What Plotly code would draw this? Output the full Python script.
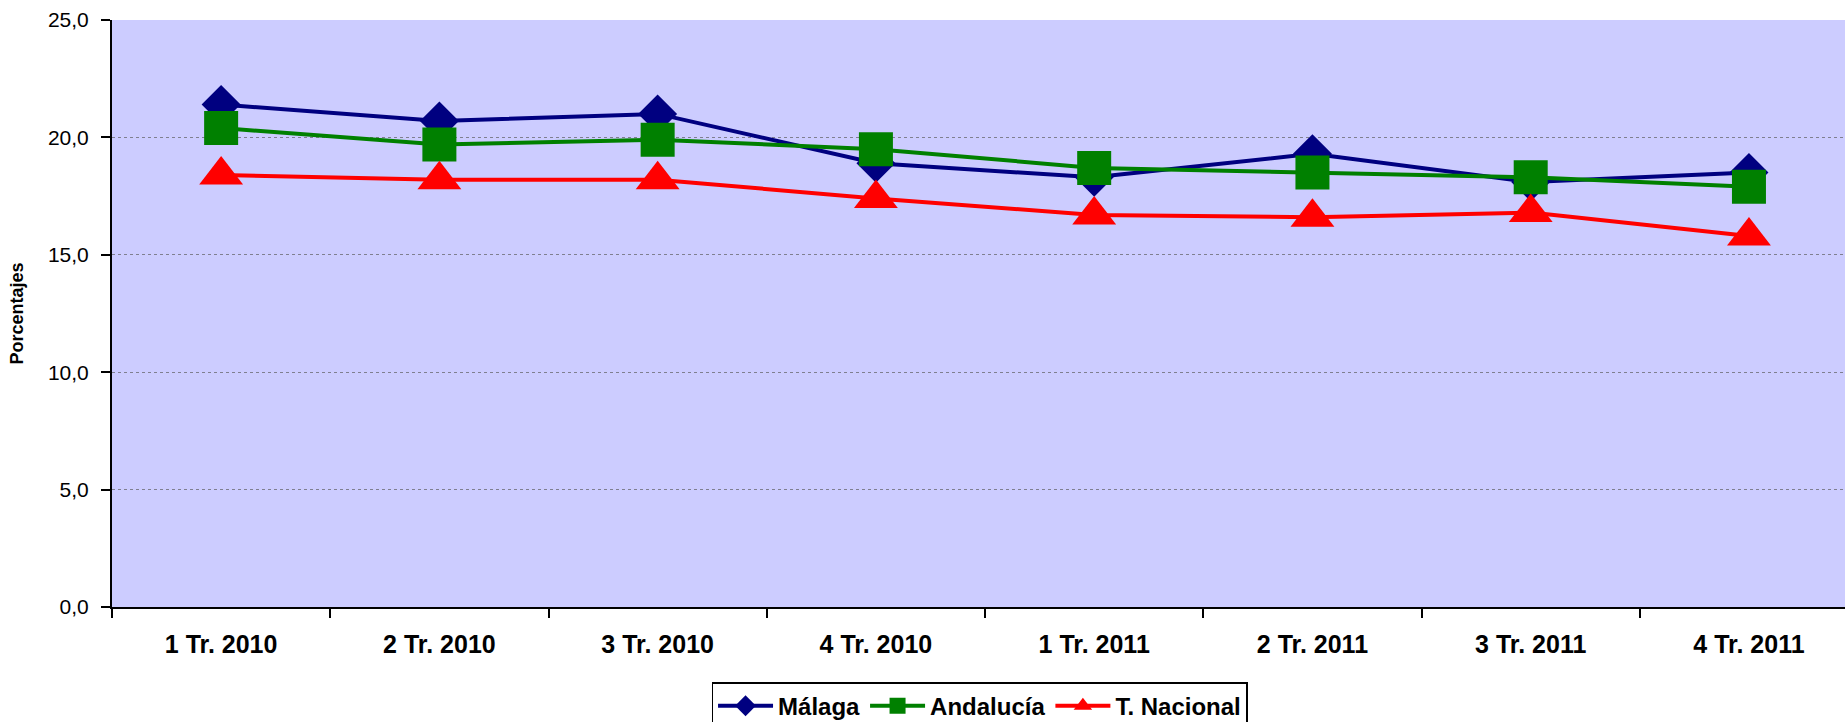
import plotly.graph_objects as go

# Quarterly rates (%) by territory
trimestres = ["1 Tr. 2010", "2 Tr. 2010", "3 Tr. 2010", "4 Tr. 2010",
              "1 Tr. 2011", "2 Tr. 2011", "3 Tr. 2011", "4 Tr. 2011"]
malaga = [21.4, 20.7, 21.0, 18.9, 18.3, 19.3, 18.1, 18.5]
andalucia = [20.4, 19.7, 19.9, 19.5, 18.7, 18.5, 18.3, 17.9]
nacional = [18.4, 18.2, 18.2, 17.4, 16.7, 16.6, 16.8, 15.8]

FONT = "Liberation Sans, Arial, sans-serif"

fig = go.Figure()
series = [
    ("Málaga", malaga, "#000080", "diamond", 30),
    ("Andalucía", andalucia, "#008000", "square", 34),
    ("T. Nacional", nacional, "#FF0000", "triangle-up", 38),
]
for name, vals, color, symbol, size in series:
    fig.add_trace(go.Scatter(
        x=trimestres, y=vals, name=name, mode="lines+markers",
        line=dict(color=color, width=4),
        marker=dict(symbol=symbol, size=size, color=color,
                    line=dict(width=0)),
    ))

fig.update_layout(
    width=1845, height=722,
    margin=dict(l=112, r=0, t=20, b=115, autoexpand=False),
    paper_bgcolor="white",
    plot_bgcolor="#CCCCFF",
    separators=",.",
    font=dict(family=FONT, color="black"),
    showlegend=True,
    legend=dict(
        orientation="h", x=0.5006, xanchor="center", y=-0.128, yanchor="top",
        bordercolor="black", borderwidth=1.5, bgcolor="white",
        font=dict(size=24, family=FONT, weight="bold"),
        itemwidth=55, tracegroupgap=0,
    ),
    xaxis=dict(
        type="category", range=[-0.5, 7.44],
        showline=True, linecolor="black", linewidth=2,
        ticks="outside", tickson="boundaries", ticklen=9, tickwidth=1.5,
        tickcolor="black", showgrid=False, zeroline=False,
        tickfont=dict(size=25, family=FONT, weight="bold"),
        ticklabelstandoff=14,
    ),
    yaxis=dict(
        range=[0, 25], dtick=5, tick0=0, tickformat=".1f",
        showline=True, linecolor="black", linewidth=2,
        ticks="outside", ticklen=9, tickwidth=1.5, tickcolor="black",
        showgrid=True, gridcolor="#7f7f8f", griddash="dot", gridwidth=1,
        zeroline=False,
        tickfont=dict(size=21, family=FONT),
        ticklabelstandoff=8,
        title=dict(text="Porcentajes", standoff=20,
                   font=dict(size=18, family=FONT, weight="bold")),
    ),
)

fig.write_html("out.html")
